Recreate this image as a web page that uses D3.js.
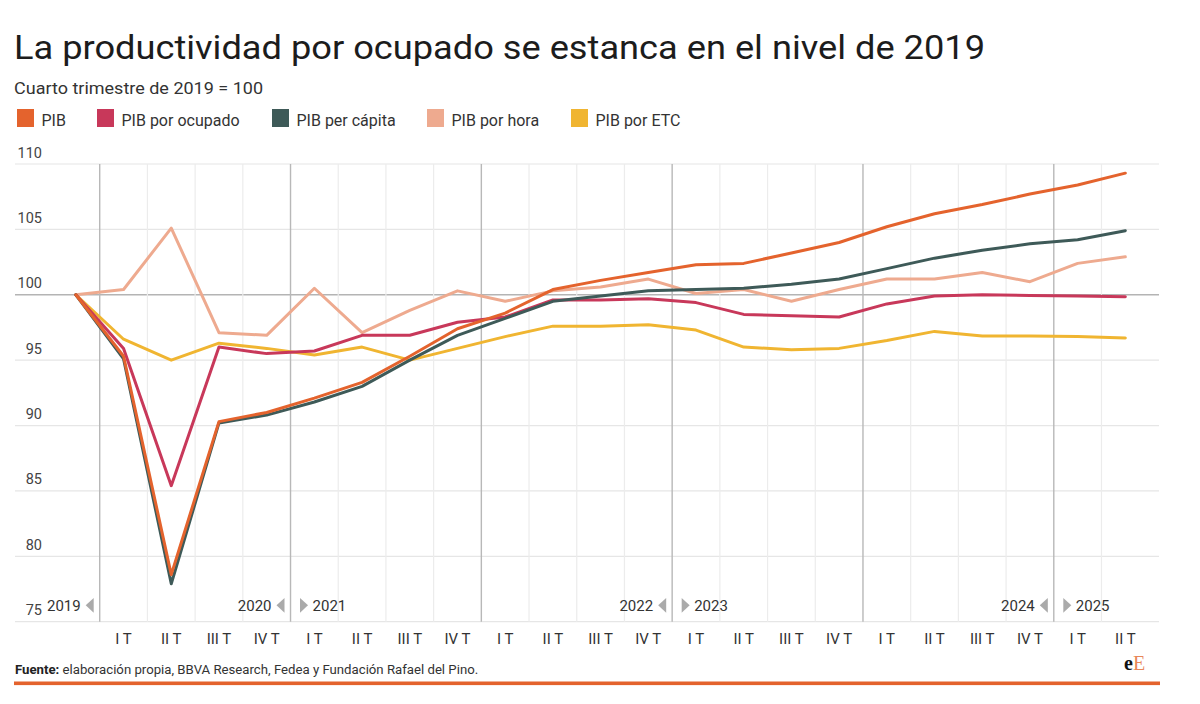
<!DOCTYPE html>
<html>
<head>
<meta charset="utf-8">
<script src="https://cdn.jsdelivr.net/npm/d3@7"></script>
<style>
  html, body { margin: 0; padding: 0; background: #fff; }
  svg { display: block; font-family: Roboto, "Noto Sans", sans-serif; }
</style>
</head>
<body>
<svg id="chart" width="1200" height="704"></svg>
<script>
// ---------- DATA ----------
const periods = ["2019-IV","2020-I","2020-II","2020-III","2020-IV","2021-I","2021-II","2021-III","2021-IV",
  "2022-I","2022-II","2022-III","2022-IV","2023-I","2023-II","2023-III","2023-IV",
  "2024-I","2024-II","2024-III","2024-IV","2025-I","2025-II"];
const quarterLabels = ["","I T","II T","III T","IV T","I T","II T","III T","IV T",
  "I T","II T","III T","IV T","I T","II T","III T","IV T",
  "I T","II T","III T","IV T","I T","II T"];
const yearBreaks = ["2020-I","2021-I","2022-I","2023-I","2024-I","2025-I"];
const breakLeftLabels = ["2019","2020","","2022","","2024"];
const breakRightLabels = ["","2021","","2023","","2025"];
const yTicks = [75,80,85,90,95,100,105,110];

const seriesNames = ["PIB","PIB por ocupado","PIB per cápita","PIB por hora","PIB por ETC"];
const seriesColors = ["#e4632d","#c8385a","#3e5a58","#eeaa8f","#f0b531"];

const pib      = [100,95.3,78.6,90.3,91.0,92.1,93.3,95.3,97.4,98.6,100.4,101.1,101.7,102.3,102.4,103.2,104.0,105.2,106.2,106.9,107.7,108.4,109.3];
const ocupado  = [100,95.9,85.4,96.0,95.5,95.7,96.9,96.9,97.9,98.3,99.6,99.6,99.7,99.4,98.5,98.4,98.3,99.3,99.9,100.0,99.95,99.9,99.85];
const capita   = [100,95.1,77.9,90.2,90.8,91.8,93.0,95.0,96.9,98.2,99.5,99.9,100.3,100.4,100.5,100.8,101.2,102.0,102.8,103.4,103.9,104.2,104.9];
const hora     = [100,100.4,105.1,97.1,96.9,100.5,97.1,98.8,100.3,99.5,100.3,100.6,101.2,100.1,100.4,99.5,100.4,101.2,101.2,101.7,101.0,102.4,102.9];
const etc      = [100,96.6,95.0,96.3,95.9,95.4,96.0,95.0,95.9,96.8,97.6,97.6,97.7,97.3,96.0,95.8,95.9,96.5,97.2,96.85,96.85,96.8,96.7];

const seriesValues = [pib, ocupado, capita, hora, etc];
const drawOrder = [4, 3, 1, 2, 0];

// ---------- LAYOUT ----------
const svg = d3.select("#chart");
const gridLeft = 15, gridRight = 1159;
const x = d3.scaleBand().domain(periods).range([52, 1149.2]).padding(0);
const y = d3.scaleLinear().domain([75, 110]).range([621.7, 164]);
const cx = p => x(p) + x.bandwidth() / 2;

// Title
svg.append("text")
  .attr("x", 14).attr("y", 58.5)
  .attr("font-size", 33).attr("fill", "#1c1c1c")
  .attr("textLength", 971).attr("lengthAdjust", "spacingAndGlyphs")
  .text("La productividad por ocupado se estanca en el nivel de 2019");

svg.append("text")
  .attr("x", 14).attr("y", 94)
  .attr("font-size", 16.5).attr("fill", "#333")
  .attr("textLength", 249).attr("lengthAdjust", "spacingAndGlyphs")
  .text("Cuarto trimestre de 2019 = 100");

// Legend
const legendX = [17, 97, 272, 427, 571];
const legend = svg.append("g");
seriesNames.forEach((name, i) => {
  legend.append("rect")
    .attr("x", legendX[i]).attr("y", 109)
    .attr("width", 17).attr("height", 18)
    .attr("fill", seriesColors[i]);
  legend.append("text")
    .attr("x", legendX[i] + 24.5).attr("y", 126)
    .attr("font-size", 16).attr("fill", "#333")
    .text(name);
});

// Horizontal grid + y labels
const yAxis = svg.append("g");
yTicks.forEach(t => {
  yAxis.append("line")
    .attr("x1", gridLeft).attr("x2", gridRight)
    .attr("y1", y(t)).attr("y2", y(t))
    .attr("stroke", t === 100 ? "#b4b4b4" : "#e6e6e6")
    .attr("stroke-width", t === 100 ? 1.6 : 1.2);
  yAxis.append("text")
    .attr("x", 42).attr("y", y(t) - 6.5)
    .attr("text-anchor", "end")
    .attr("font-size", 14.5).attr("fill", "#444")
    .text(t);
});

// Vertical grid
const vGrid = svg.append("g");
periods.slice(1).forEach(p => {
  const isYear = yearBreaks.includes(p);
  vGrid.append("line")
    .attr("x1", x(p)).attr("x2", x(p))
    .attr("y1", y(110)).attr("y2", y(75))
    .attr("stroke", isYear ? "#b8b8b8" : "#ececec")
    .attr("stroke-width", isYear ? 1.4 : 1.2);
});

// Year markers
const yearG = svg.append("g");
yearBreaks.forEach((p, i) => {
  const b = x(p);
  if (breakLeftLabels[i]) {
    yearG.append("path")
      .attr("d", `M${b - 6},598 L${b - 6},612.7 L${b - 14},605.3 Z`)
      .attr("fill", "#aaa");
    yearG.append("text")
      .attr("x", b - 19).attr("y", 610.5)
      .attr("text-anchor", "end")
      .attr("font-size", 15).attr("fill", "#333")
      .text(breakLeftLabels[i]);
  }
  if (breakRightLabels[i]) {
    yearG.append("path")
      .attr("d", `M${b + 9.5},598 L${b + 9.5},612.7 L${b + 17.5},605.3 Z`)
      .attr("fill", "#aaa");
    yearG.append("text")
      .attr("x", b + 22).attr("y", 610.5)
      .attr("font-size", 15).attr("fill", "#333")
      .text(breakRightLabels[i]);
  }
});

// X labels
const xAxis = svg.append("g");
periods.forEach((p, i) => {
  if (!quarterLabels[i]) return;
  xAxis.append("text")
    .attr("x", cx(p)).attr("y", 643.5)
    .attr("text-anchor", "middle")
    .attr("font-size", 15).attr("fill", "#333")
    .text(quarterLabels[i]);
});

// Lines
const line = d3.line()
  .x((d, i) => cx(periods[i]))
  .y(d => y(d));
const linesG = svg.append("g");
drawOrder.forEach(si => {
  linesG.append("path")
    .datum(seriesValues[si])
    .attr("d", line)
    .attr("fill", "none")
    .attr("stroke", seriesColors[si])
    .attr("stroke-width", 3)
    .attr("stroke-linejoin", "round")
    .attr("stroke-linecap", "round");
});

// Footer
const foot = svg.append("text")
  .attr("x", 15).attr("y", 674)
  .attr("font-size", 13.2).attr("fill", "#333");
foot.append("tspan").attr("font-weight", "bold").attr("fill", "#222").text("Fuente:");
foot.append("tspan").text(" elaboración propia, BBVA Research, Fedea y Fundación Rafael del Pino.");

const logo = svg.append("text")
  .attr("x", 1124).attr("y", 670)
  .attr("font-family", "'Liberation Serif', 'DejaVu Serif', serif")
  .attr("font-size", 20).attr("font-weight", "bold");
logo.append("tspan").attr("fill", "#111").text("e");
logo.append("tspan").attr("fill", "#e8875a").attr("font-weight", "normal").text("E");

svg.append("rect")
  .attr("x", 14).attr("y", 681.5)
  .attr("width", 1146).attr("height", 3.6)
  .attr("fill", "#e4632d");
</script>
</body>
</html>
